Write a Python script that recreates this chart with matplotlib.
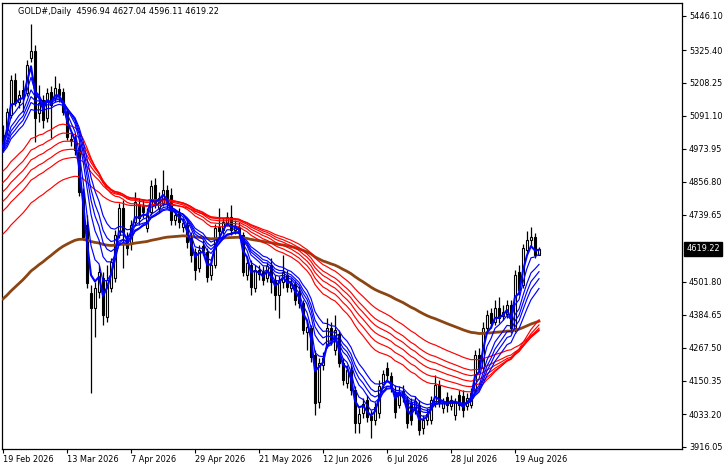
import matplotlib
matplotlib.use('Agg')
import matplotlib.pyplot as plt
import numpy as np
import pandas as pd

# daily bars, Good Friday closed
dates = pd.bdate_range('2026-02-19', '2026-08-27', freq='C', holidays=['2026-04-03'])

opens = [5024, 5041, 5095, 5219, 5141, 5183, 5173, 5297, 5322, 5102,
         5148, 5084, 5176, 5155, 5187, 5176, 5105, 5009, 5006, 4978,
         4821, 4704, 4463, 4410, 4466, 4516, 4378, 4481, 4516, 4669,
         4765, 4651, 4640, 4715, 4775, 4772, 4694, 4750, 4846, 4765,
         4782, 4828, 4811, 4722, 4747, 4697, 4704, 4658, 4608, 4552,
         4630, 4608, 4527, 4562, 4697, 4686, 4711, 4733, 4686, 4697,
         4669, 4527, 4562, 4481, 4544, 4537, 4516, 4562, 4509, 4456,
         4502, 4527, 4481, 4495, 4466, 4427, 4324, 4339, 4243, 4076,
         4207, 4278, 4339, 4260, 4317, 4214, 4143, 4190, 4118, 4001,
         4037, 4083, 4026, 4012, 4037, 4140, 4197, 4168, 4111, 4065,
         4115, 4083, 4072, 4047, 4065, 3984, 4012, 4012, 4072, 4136,
         4055, 4094, 4062, 4030, 4101, 4097, 4062, 4065, 4118, 4243,
         4197, 4339, 4392, 4360, 4410, 4381, 4388, 4420, 4339, 4537,
         4491, 4615, 4651, 4662, 4596.94]
highs = [5059, 5120, 5237, 5244, 5183, 5219, 5290, 5418, 5343, 5201,
         5166, 5190, 5198, 5233, 5208, 5190, 5120, 5027, 5024, 4995,
         4836, 4740, 4491, 4502, 4562, 4537, 4562, 4587, 4686, 4782,
         4793, 4679, 4722, 4821, 4800, 4793, 4765, 4864, 4871, 4821,
         4899, 4846, 4836, 4757, 4765, 4729, 4722, 4679, 4623, 4633,
         4651, 4623, 4580, 4708, 4765, 4729, 4750, 4775, 4722, 4715,
         4679, 4587, 4580, 4562, 4562, 4559, 4573, 4587, 4527, 4523,
         4598, 4544, 4516, 4509, 4488, 4438, 4360, 4349, 4260, 4232,
         4253, 4374, 4360, 4385, 4331, 4232, 4207, 4207, 4133, 4055,
         4090, 4101, 4047, 4076, 4154, 4190, 4218, 4182, 4136, 4133,
         4136, 4097, 4090, 4097, 4083, 4030, 4055, 4097, 4172, 4154,
         4090, 4111, 4101, 4090, 4118, 4118, 4108, 4126, 4260, 4268,
         4360, 4402, 4410, 4438, 4449, 4420, 4438, 4438, 4544, 4562,
         4637, 4683, 4697, 4676, 4627.04]
lows = [4963, 5024, 5084, 5127, 5120, 5105, 5162, 5283, 4999, 5070,
        5049, 5070, 5013, 5141, 5141, 5095, 5006, 4985, 4953, 4807,
        4651, 4481, 4108, 4307, 4445, 4349, 4360, 4466, 4502, 4658,
        4552, 4598, 4615, 4701, 4704, 4729, 4679, 4740, 4765, 4750,
        4772, 4765, 4704, 4704, 4694, 4679, 4623, 4573, 4509, 4537,
        4598, 4502, 4509, 4552, 4665, 4672, 4701, 4669, 4672, 4658,
        4523, 4509, 4456, 4466, 4509, 4491, 4502, 4463, 4402, 4374,
        4481, 4466, 4466, 4420, 4410, 4317, 4260, 4218, 4030, 4055,
        4190, 4268, 4278, 4243, 4200, 4136, 4126, 4101, 3966, 3966,
        4019, 4005, 3948, 3994, 4019, 4126, 4154, 4111, 4019, 4055,
        4076, 3984, 3994, 4033, 3959, 3962, 3994, 3998, 4058, 4058,
        4037, 4040, 4047, 4012, 4047, 4023, 4047, 4055, 4108, 4182,
        4182, 4324, 4339, 4349, 4356, 4367, 4374, 4321, 4324, 4456,
        4481, 4605, 4630, 4587, 4596.11]
closes = [4978, 5105, 5219, 5137, 5166, 5159, 5272, 5322, 5084, 5137,
          5077, 5173, 5130, 5190, 5166, 5105, 5017, 5002, 4970, 4821,
          4662, 4498, 4410, 4481, 4537, 4385, 4509, 4573, 4669, 4765,
          4679, 4623, 4704, 4786, 4729, 4750, 4740, 4843, 4782, 4800,
          4828, 4782, 4722, 4740, 4715, 4711, 4644, 4598, 4544, 4615,
          4615, 4520, 4562, 4694, 4683, 4715, 4733, 4686, 4701, 4676,
          4537, 4569, 4484, 4544, 4530, 4509, 4559, 4502, 4456, 4509,
          4537, 4484, 4498, 4438, 4427, 4331, 4342, 4236, 4072, 4214,
          4232, 4339, 4296, 4331, 4214, 4154, 4190, 4118, 4001, 4033,
          4069, 4023, 4012, 4058, 4133, 4175, 4172, 4129, 4040, 4111,
          4094, 4001, 4012, 4079, 3976, 4012, 4033, 4083, 4136, 4076,
          4072, 4065, 4083, 4076, 4065, 4047, 4090, 4108, 4243, 4197,
          4339, 4385, 4356, 4410, 4374, 4395, 4420, 4339, 4527, 4474,
          4623, 4651, 4662, 4598, 4619.22]

# GMMA periods and the values each line carries in from before the window
short_periods = [3, 5, 8, 10, 12, 15]
short_seeds = [4990, 4985, 4978, 4972, 4965, 4960]
long_periods = [30, 35, 40, 45, 50, 60]
long_seeds = [4890, 4848, 4815, 4780, 4745, 4662]
trend_period = 100
trend_seed = 4431

price_ticks = [3916.05, 4033.20, 4150.35, 4267.50, 4384.65, 4501.80,
               4739.65, 4856.80, 4973.95, 5091.10, 5208.25, 5325.40, 5446.10]

BLUE = '#0000FF'
RED = '#FF0000'
BROWN = '#8B4513'

plt.rcParams.update({'font.family': 'DejaVu Sans', 'font.size': 5.9})

o = np.array(opens, float)
h = np.array(highs, float)
l = np.array(lows, float)
c = np.array(closes, float)
x = np.arange(len(c))


def ema(seed, period):
    s = pd.Series(np.concatenate([[seed], c]))
    return s.ewm(span=period, adjust=False).mean().values[1:]


W, H = 728, 470
fig = plt.figure(figsize=(W / 100, H / 100), dpi=100)
ax = fig.add_axes([2 / W, (H - 449) / H, 680 / W, 446 / H])

# candles
up = c >= o
ax.vlines(x, l, h, color='black', lw=0.9, zorder=3)
ax.bar(x[up], (c - o)[up], bottom=o[up], width=0.7, color='white',
       edgecolor='black', linewidth=0.8, zorder=4)
ax.bar(x[~up], (o - c)[~up], bottom=c[~up], width=0.7, color='black',
       edgecolor='black', linewidth=0.8, zorder=4)

# moving averages
ax.plot(x, ema(trend_seed, trend_period), color=BROWN, lw=2.0, zorder=5)
for p, sd in zip(long_periods, long_seeds):
    ax.plot(x, ema(sd, p), color=RED, lw=0.85, zorder=6)
for k, (p, sd) in enumerate(zip(short_periods, short_seeds)):
    ax.plot(x, ema(sd, p), color=BLUE, lw=1.5 if k == 0 else 0.85, zorder=7)

ax.set_xlim(-0.25, 169.75)
ax.set_ylim(3908.95, 5492.25)

# right price scale
ax.yaxis.tick_right()
ax.set_yticks(price_ticks, [f'{v:.2f}' for v in price_ticks])
ax.tick_params(axis='y', direction='out', length=3, width=0.8, pad=2,
               colors='black')
ax.annotate(f'{closes[-1]:.2f}', xy=(1.0, closes[-1]),
            xycoords=('axes fraction', 'data'), xytext=(3, 0),
            textcoords='offset points', va='center', ha='left',
            color='white', fontsize=5.9,
            bbox=dict(boxstyle='square,pad=0.3', fc='black', ec='black'))

# date scale
xt = list(range(0, len(dates), 16))
ax.set_xticks(xt, [f"{dates[i].day} {dates[i].strftime('%b %Y')}" for i in xt])
ax.tick_params(axis='x', direction='out', length=3, width=0.8, pad=1.5,
               colors='black')
for t in ax.get_xticklabels():
    t.set_ha('left')

for s in ax.spines.values():
    s.set_color('black')
    s.set_linewidth(0.9)

fig.text(18 / W, 1 - 11 / H,
         f'GOLD#,Daily  {opens[-1]:.2f} {highs[-1]:.2f} {lows[-1]:.2f} {closes[-1]:.2f}',
         ha='left', va='center', fontsize=5.9, color='black')

fig.savefig('out.png', dpi=100, facecolor='white')
